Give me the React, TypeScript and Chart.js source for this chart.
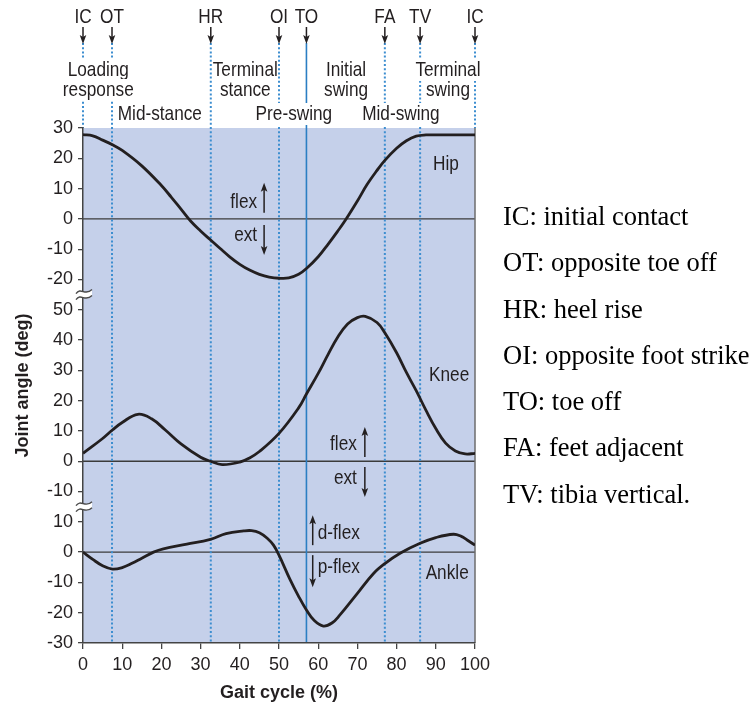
import React, { useEffect, useRef } from "react";
import { Chart, registerables } from "chart.js";
Chart.register(...registerables);

const FONT = "'Liberation Sans', Arial, sans-serif";
const SX = 0.82; // horizontal squeeze to mimic the narrow face of the figure
const INK = "#231f20";
const BG = "rgb(197,208,234)";

// Gait cycle (%) and joint angle (deg)
const hipPct = [0, 2.5, 5, 7.5, 10, 15, 20, 22.5, 25, 27.5, 30, 32.5, 35, 37.5, 40, 42.5, 45, 47.5, 50, 52.5, 55, 57, 60, 62.5, 65, 67, 70, 72.5, 75, 77, 80, 82.5, 85, 87.5, 90, 95, 100];
const hipDeg = [27.8, 27.4, 26.0, 24.5, 22.6, 17.5, 11.0, 7.2, 3.2, -0.8, -4.0, -6.9, -9.8, -12.6, -15.0, -16.9, -18.3, -19.2, -19.6, -19.5, -18.3, -16.4, -12.5, -8.4, -4.0, -0.3, 5.9, 11.4, 16.0, 19.3, 23.3, 25.8, 27.3, 27.7, 27.7, 27.7, 27.7];

const kneePct = [0, 5, 7.5, 10, 14, 17.5, 21, 25, 30, 32.5, 35.5, 40, 42.5, 45, 50, 55, 57, 60, 62.5, 65, 67.5, 70, 72, 75, 77, 80, 82.5, 85, 87.5, 90, 92.5, 95, 97.5, 100];
const kneeDeg = [2.6, 7.5, 10.3, 12.8, 15.5, 14.0, 10.3, 5.7, 1.3, 0, -1.1, -0.3, 1.1, 3.2, 9.2, 17.6, 22.2, 29.0, 35.2, 41.0, 45.3, 47.4, 47.8, 45.8, 42.4, 35.8, 29.3, 23.3, 16.8, 10.8, 6.0, 3.4, 2.4, 2.6];

const anklePct = [0, 2.5, 5, 7.5, 10, 12.5, 15, 18, 20.5, 26.5, 32.5, 36.5, 41, 43, 45, 47, 48.6, 50, 52.8, 55, 57, 59, 61.3, 63.5, 65.5, 70, 74, 77, 81, 86, 90, 94.5, 96.5, 98, 100];
const ankleDeg = [0, -2.4, -4.5, -5.6, -5.1, -3.7, -2.0, 0, 1.1, 2.6, 4.2, 6.1, 7.0, 7.1, 6.4, 4.6, 2.3, -1.0, -9.0, -14.6, -19.1, -22.6, -24.4, -23.4, -20.8, -13.6, -7.2, -3.8, -0.3, 2.9, 4.8, 5.9, 5.2, 4.0, 2.3];

// Gait events
const eventLabels = ["IC", "OT", "HR", "OI", "TO", "FA", "TV", "IC"];
const eventPct = [0, 7.4, 32.6, 50, 57, 77, 86, 100];
const eventSolid = [false, false, false, false, true, false, false, false];

// Gait phases
const phaseText = [["Loading", "response"], ["Mid-stance"], ["Terminal", "stance"], ["Pre-swing"], ["Initial", "swing"], ["Mid-swing"], ["Terminal", "swing"]];
const phasePct = [3.9, 19.6, 41.4, 53.8, 67.1, 81.1, 93.1];
const phaseRow = [0, 2, 0, 2, 0, 2, 0];

// y-axis tick ranges per panel (deg)
const hipTicks = [-20, 30];
const kneeTicks = [-10, 50];
const ankleTicks = [-30, 10];

const legendLines = ["IC: initial contact", "OT: opposite toe off", "HR: heel rise", "OI: opposite foot strike", "TO: toe off", "FA: feet adjacent", "TV: tibia vertical."];

// stacked panels on one axis: offset of each panel's zero
const ANKLE_OFF = -ankleTicks[0];
const KNEE_OFF = ANKLE_OFF + ankleTicks[1] + 10 - kneeTicks[0];
const HIP_OFF = KNEE_OFF + kneeTicks[1] + 10 - hipTicks[0];
const Y_MAX = HIP_OFF + hipTicks[1];

const ROW_Y = [-58, -38, -14];

function arrow(ctx: CanvasRenderingContext2D, px: number, y1: number, y2: number) {
  const dir = Math.sign(y2 - y1);
  ctx.lineWidth = 1.5;
  ctx.beginPath();
  ctx.moveTo(px, y1);
  ctx.lineTo(px, y2 - dir * 5);
  ctx.stroke();
  ctx.beginPath();
  ctx.moveTo(px, y2);
  ctx.lineTo(px - 3.3, y2 - dir * 9);
  ctx.lineTo(px, y2 - dir * 7);
  ctx.lineTo(px + 3.3, y2 - dir * 9);
  ctx.closePath();
  ctx.fill();
}

function text(ctx: CanvasRenderingContext2D, t: string, x: number, y: number, align: CanvasTextAlign) {
  ctx.save();
  ctx.translate(x, y);
  ctx.scale(SX, 1);
  ctx.textAlign = align;
  ctx.fillText(t, 0, 0);
  ctx.restore();
}

const decor = {
  id: "gaitDecor",
  beforeDraw(chart: any) {
    const { ctx, chartArea: a, scales } = chart;
    const xs = scales.x, ys = scales.y;
    ctx.save();
    ctx.fillStyle = BG;
    ctx.fillRect(a.left, a.top, a.right - a.left, a.bottom - a.top);
    ctx.strokeStyle = "#3b3b3b";
    ctx.lineWidth = 1.3;
    [HIP_OFF, KNEE_OFF, ANKLE_OFF].forEach((off) => {
      const py = ys.getPixelForValue(off);
      ctx.beginPath();
      ctx.moveTo(a.left, py);
      ctx.lineTo(a.right, py);
      ctx.stroke();
    });
    eventPct.forEach((p, i) => {
      const px = xs.getPixelForValue(p);
      const inside = p > 0 && p < 100;
      ctx.strokeStyle = eventSolid[i] ? "#2b7ec3" : "#3d8ed0";
      ctx.lineWidth = eventSolid[i] ? 1.6 : 2;
      ctx.setLineDash(eventSolid[i] ? [] : [2, 2.2]);
      ctx.beginPath();
      ctx.moveTo(px, a.top - 85);
      ctx.lineTo(px, inside ? a.bottom : a.top);
      ctx.stroke();
    });
    ctx.setLineDash([]);
    ctx.strokeStyle = "#6d6d6d";
    ctx.lineWidth = 1.5;
    ctx.beginPath();
    ctx.moveTo(a.right, a.top);
    ctx.lineTo(a.right, a.bottom);
    ctx.stroke();

    ctx.font = `21px ${FONT}`;
    ctx.textBaseline = "middle";
    ctx.fillStyle = INK;
    ctx.strokeStyle = INK;
    eventLabels.forEach((t, i) => {
      const px = xs.getPixelForValue(eventPct[i]);
      text(ctx, t, px, a.top - 111, "center");
      arrow(ctx, px, a.top - 101, a.top - 84);
    });
    phaseText.forEach((lines, i) => {
      const cx = xs.getPixelForValue(phasePct[i]);
      lines.forEach((t, j) => {
        const cy = a.top + ROW_Y[phaseRow[i] + j];
        const w = ctx.measureText(t).width * SX;
        ctx.fillStyle = "#fff";
        ctx.fillRect(cx - w / 2, cy - 11, w, 22);
        ctx.fillStyle = INK;
        text(ctx, t, cx, cy, "center");
      });
    });
    ctx.restore();
  },
  afterDraw(chart: any) {
    const { ctx, chartArea: a, scales } = chart;
    const xs = scales.x, ys = scales.y;
    const X = (p: number) => xs.getPixelForValue(p);
    const Y = (d: number, off: number) => ys.getPixelForValue(d + off);
    ctx.save();
    ctx.fillStyle = INK;
    ctx.strokeStyle = INK;
    ctx.font = `21px ${FONT}`;
    ctx.textBaseline = "middle";
    text(ctx, "Hip", X(92.6), Y(18, HIP_OFF), "center");
    text(ctx, "Knee", X(93.4), Y(28.3, KNEE_OFF), "center");
    text(ctx, "Ankle", X(92.9), Y(-6.9, ANKLE_OFF), "center");

    // hip flex / ext
    let ax = X(46.2);
    text(ctx, "flex", ax - 7, Y(5.6, HIP_OFF), "right");
    text(ctx, "ext", ax - 7, Y(-5.3, HIP_OFF), "right");
    arrow(ctx, ax, Y(2, HIP_OFF), Y(11.9, HIP_OFF));
    arrow(ctx, ax, Y(-2, HIP_OFF), Y(-11.9, HIP_OFF));
    // knee flex / ext
    ax = X(71.9);
    text(ctx, "flex", ax - 8, Y(5.7, KNEE_OFF), "right");
    text(ctx, "ext", ax - 8, Y(-5.5, KNEE_OFF), "right");
    arrow(ctx, ax, Y(1.4, KNEE_OFF), Y(11.3, KNEE_OFF));
    arrow(ctx, ax, Y(-1.9, KNEE_OFF), Y(-11.8, KNEE_OFF));
    // ankle d-flex / p-flex
    ax = X(58.6);
    text(ctx, "d-flex", ax + 5, Y(6.3, ANKLE_OFF), "left");
    text(ctx, "p-flex", ax + 5, Y(-5, ANKLE_OFF), "left");
    arrow(ctx, ax, Y(2.3, ANKLE_OFF), Y(12.2, ANKLE_OFF));
    arrow(ctx, ax, Y(-1, ANKLE_OFF), Y(-11.6, ANKLE_OFF));

    // axis break marks
    [ANKLE_OFF + ankleTicks[1] + 5, KNEE_OFF + kneeTicks[1] + 5].forEach((v) => {
      const y = ys.getPixelForValue(v);
      const x = a.left;
      ctx.fillStyle = "#fff";
      ctx.beginPath();
      ctx.moveTo(x - 7, y - 1);
      ctx.bezierCurveTo(x - 2, y - 8, x + 2, y + 2, x + 9, y - 5);
      ctx.lineTo(x + 9, y + 1);
      ctx.bezierCurveTo(x + 2, y + 8, x - 2, y - 2, x - 7, y + 5);
      ctx.closePath();
      ctx.fill();
      ctx.strokeStyle = "#4a4a4a";
      ctx.lineWidth = 1.4;
      [-3, 3].forEach((d) => {
        ctx.beginPath();
        ctx.moveTo(x - 7, y + d + 2);
        ctx.bezierCurveTo(x - 2, y + d - 5, x + 2, y + d + 5, x + 9, y + d - 2);
        ctx.stroke();
      });
    });
    ctx.restore();
  },
};

function pts(p: number[], d: number[], off: number) {
  return p.map((x, i) => ({ x, y: d[i] + off }));
}

function tickLabel(v: number) {
  if (v >= HIP_OFF + hipTicks[0]) return String(v - HIP_OFF);
  if (v >= KNEE_OFF + kneeTicks[0]) return String(v - KNEE_OFF);
  return String(v - ANKLE_OFF);
}

export default function App() {
  const ref = useRef<HTMLCanvasElement>(null);
  useEffect(() => {
    const line = (label: string, data: any[]) => ({
      label,
      data,
      borderColor: INK,
      borderWidth: 2.8,
      pointRadius: 0,
      fill: false,
      tension: 0.4,
    });
    const chart = new Chart(ref.current!, {
      type: "line",
      data: {
        datasets: [
          line("Hip", pts(hipPct, hipDeg, HIP_OFF)),
          line("Knee", pts(kneePct, kneeDeg, KNEE_OFF)),
          line("Ankle", pts(anklePct, ankleDeg, ANKLE_OFF)),
        ],
      },
      options: {
        animation: false,
        responsive: true,
        maintainAspectRatio: false,
        layout: { padding: { top: 128, right: 278, left: 0, bottom: 0 } },
        plugins: { legend: { display: false }, tooltip: { enabled: false } },
        scales: {
          x: {
            type: "linear",
            min: 0,
            max: 100,
            afterFit: (s: any) => { s.height = 64; },
            ticks: { stepSize: 10, color: INK, font: { family: FONT, size: 18 }, padding: 5, autoSkip: false, maxRotation: 0 },
            grid: { drawOnChartArea: false, drawTicks: true, tickLength: 6, color: "#444", lineWidth: 1.3 },
            border: { display: true, color: "#444", width: 1.5 },
            title: { display: true, text: "Gait cycle (%)", color: INK, font: { family: FONT, size: 18, weight: "bold" }, padding: { top: 0, bottom: 3 } },
          },
          y: {
            type: "linear",
            min: 0,
            max: Y_MAX,
            afterFit: (s: any) => { s.width = 83; },
            ticks: { stepSize: 10, color: INK, font: { family: FONT, size: 18 }, padding: 5, autoSkip: false, callback: (v: any) => tickLabel(Number(v)) },
            grid: { drawOnChartArea: false, drawTicks: true, tickLength: 5, color: "#444", lineWidth: 1.3 },
            border: { display: true, color: "#444", width: 1.5 },
            title: { display: true, text: "Joint angle (deg)", color: INK, font: { family: FONT, size: 18, weight: "bold" }, padding: { top: 12, bottom: 0 } },
          },
        },
      },
      plugins: [decor],
    });
    return () => chart.destroy();
  }, []);
  return (
    <>
      <div style={{ position: "absolute", left: 0, top: 0, width: 753, height: 707 }}>
        <canvas ref={ref} />
      </div>
      <div style={{ position: "absolute", left: 503, top: 193, fontFamily: "'Liberation Serif', 'Times New Roman', serif", fontSize: "26.5px", lineHeight: "46.3px", color: "#000", whiteSpace: "nowrap" }}>
        {legendLines.map((t) => (
          <div key={t}>{t}</div>
        ))}
      </div>
    </>
  );
}
